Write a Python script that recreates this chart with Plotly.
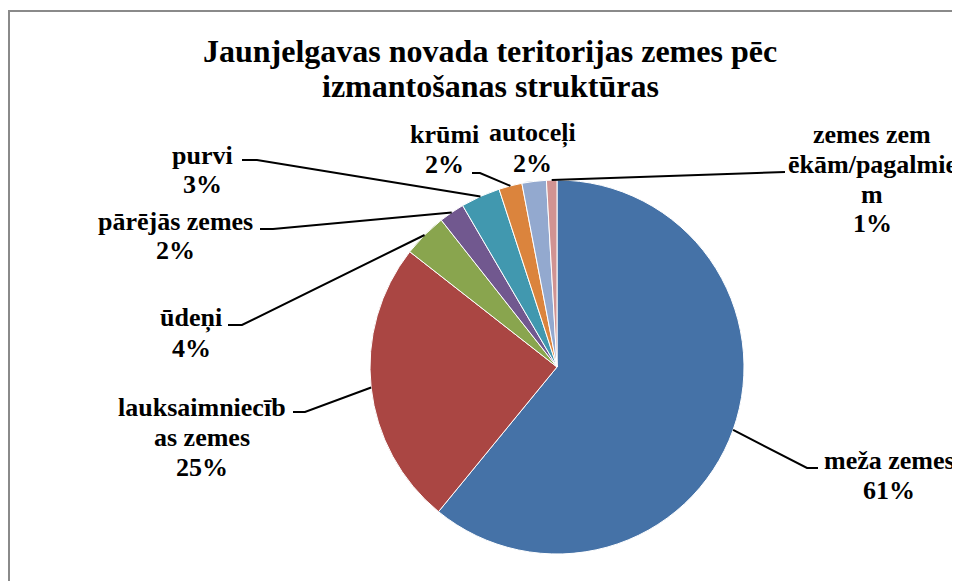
import math
import plotly.graph_objects as go

# ---- data ----
categories = ["meža zemes", "lauksaimniecības zemes", "ūdeņi", "pārējās zemes",
              "purvi", "krūmi", "autoceļi", "zemes zem ēkām/pagalmiem"]
values = [60.8, 24.6, 3.8, 2.2, 3.4, 2.0, 2.1, 0.9]
label_lines = [["meža zemes", "61%"],
               ["lauksaimniecīb", "as zemes", "25%"],
               ["ūdeņi", "4%"],
               ["pārējās zemes", "2%"],
               ["purvi", "3%"],
               ["krūmi", "2%"],
               ["autoceļi", "2%"],
               ["zemes zem", "ēkām/pagalmie", "m", "1%"]]
colors = ["#4572A7", "#AA4643", "#89A54E", "#71588F",
          "#4198AF", "#DB843D", "#93A9CF", "#D19392"]
title_lines = ["Jaunjelgavas novada teritorijas zemes pēc", "izmantošanas struktūras"]

# ---- layout (page pixels; the page body adds an 8px offset) ----
OFF = 8
W, H = 952, 573
CX, CY, R = 557, 367, 187
LINE = 30
# label: centre x, centre y of first line
label_pos = [(889, 460), (202, 407), (191, 318), (175, 221),
             (202, 155), (444, 134), (532, 133), (872, 134)]
elbows = [(807, 468), (305, 412), (242, 325), (273, 229),
          (257, 160), (480, 173), None, (785, 172)]
ends = [(818, 468), (293, 412), (228, 325), (260, 229),
        (242, 160), (472, 173), None, (785, 172)]


def px(x):
    return (x - OFF) / W


def py(y):
    return 1 - (y - OFF) / H


fig = go.Figure(go.Pie(
    labels=categories, values=values, sort=False, direction="clockwise",
    rotation=0, textinfo="none", showlegend=False,
    marker=dict(colors=colors, line=dict(color="white", width=1)),
    domain=dict(x=[px(CX - R), px(CX + R)], y=[py(CY + R), py(CY - R)]),
))

font_fam = "Liberation Serif"
annotations = []
for j, t in enumerate(title_lines):
    annotations.append(dict(text="<b>" + t + "</b>", x=px(490), y=py(51 + 35 * j),
                            xref="paper", yref="paper", showarrow=False,
                            xanchor="center", yanchor="middle",
                            font=dict(family=font_fam, size=32, color="black")))
shapes = [dict(type="rect", xref="paper", yref="paper",
               x0=px(9), y0=py(H + 40), x1=px(W + 40), y1=py(11),
               line=dict(color="#8a8a8a", width=2), fillcolor="rgba(0,0,0,0)")]

total = sum(values)
cum = 0.0
for i, v in enumerate(values):
    mid = (cum + v / 2) / total * 2 * math.pi
    cum += v
    ex = CX + R * math.sin(mid)
    ey = CY - R * math.cos(mid)
    lx, ly = label_pos[i]
    for j, t in enumerate(label_lines[i]):
        annotations.append(dict(text="<b>" + t + "</b>", x=px(lx), y=py(ly + LINE * j),
                                xref="paper", yref="paper", showarrow=False,
                                xanchor="center", yanchor="middle", align="center",
                                font=dict(family=font_fam, size=26, color="black")))
    if elbows[i] is not None:
        bx, by = elbows[i]
        tx, ty = ends[i]
        path = f"M {px(ex)} {py(ey)} L {px(bx)} {py(by)} L {px(tx)} {py(ty)}"
        shapes.append(dict(type="path", xref="paper", yref="paper", path=path,
                           line=dict(color="black", width=2)))

fig.update_layout(width=W, height=H, margin=dict(l=0, r=0, t=0, b=0),
                  paper_bgcolor="white", plot_bgcolor="white",
                  annotations=annotations, shapes=shapes)

fig.write_html("out.html")
